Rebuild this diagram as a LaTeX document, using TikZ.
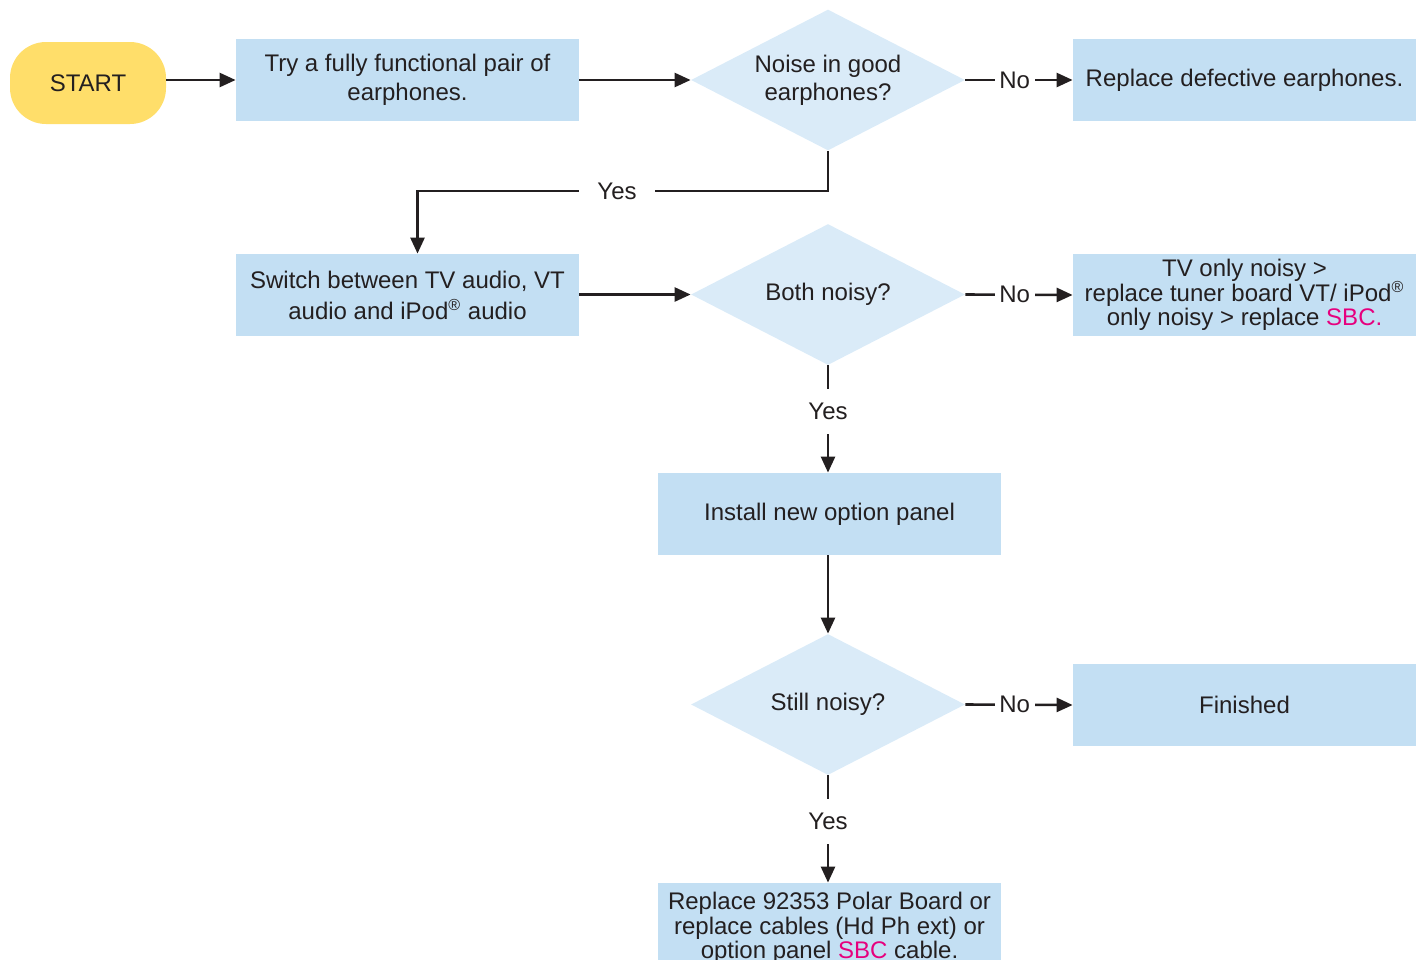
\documentclass[tikz,border=0pt]{standalone}
\usepackage{fontspec}
\setmainfont{Liberation Sans}
\usetikzlibrary{shapes.geometric,arrows.meta}
\definecolor{txt}{RGB}{35,31,32}
\definecolor{boxc}{RGB}{195,223,243}
\definecolor{diac}{RGB}{218,235,248}
\definecolor{startc}{RGB}{255,222,106}
\definecolor{mag}{RGB}{230,0,126}
\begin{document}
\begin{tikzpicture}[x=0.5pt,y=-0.5pt,
  font=\fontsize{12}{14.5}\selectfont, text=txt,
  startbox/.style={rectangle, fill=startc, rounded corners=18pt, minimum width=78pt, minimum height=41pt, inner sep=0pt},
  box/.style={rectangle, fill=boxc, minimum width=171.5pt, minimum height=41pt, inner sep=0pt, align=center},
  dia/.style={diamond, fill=diac, minimum width=137pt, minimum height=70.5pt, inner sep=0pt, aspect=1.94, align=center},
  arr/.style={draw=txt, line width=1.3pt, -{Triangle[length=8pt,width=7pt]}},
  nolbl/.style={fill=white, inner xsep=2.3pt, inner ysep=1pt, pos=0.46},
  ylbl/.style={fill=white, inner xsep=9pt, inner ysep=7pt}]
\useasboundingbox (0,0) rectangle (1423,959);

\node[startbox] (st) at (88,83) {START};
\node[box] (b1) at (407.5,80) {Try a fully functional pair of\\earphones.};
\node[dia, font=\fontsize{12}{14}\selectfont] (d1) at (828,80) {Noise in good\\earphones?};
\node[box] (b2) at (1244.5,80) {Replace defective earphones.};

\node[box, font=\fontsize{12}{15.5}\selectfont] (b3) at (407.5,295) {Switch between TV audio, VT\\audio and iPod\textsuperscript{®} audio};
\node[dia] (d2) at (828,294.5) {Both noisy?};
\node[box, font=\fontsize{12}{12.3}\selectfont] (b4) at (1244.5,295) {TV only noisy >\\replace tuner board VT/ iPod\smash{\textsuperscript{®}}\\only noisy > replace \textcolor{mag}{SBC.}};

\node[box] (b5) at (829.5,514) {Install new option panel};
\node[dia] (d3) at (828,704.5) {Still noisy?};
\node[box] (b6) at (1244.5,705) {Finished};
\node[box, minimum height=45pt, font=\fontsize{12}{12.2}\selectfont] (b7) at (829.5,928) {Replace 92353 Polar Board or\\replace cables (Hd Ph ext) or\\option panel \textcolor{mag}{SBC} cable.};

\draw[arr] (st.east |- b1.west) -- (b1.west);
\draw[arr] (b1.east) -- (d1.west);
\draw[arr] (d1.east) -- node[nolbl]{No} (b2.west);
\draw[arr] (d1.south) -- ++(0,40) -| node[pos=0.257, ylbl]{Yes} ([xshift=5pt]b3.north);

\draw[arr] (b3.east |- d2.west) -- (d2.west);
\draw[arr] (d2.east) -- node[nolbl]{No} (b4.west);
\draw[arr] (d2.south) -- node[ylbl, pos=0.43]{Yes} (d2.south |- b5.north);

\draw[arr] (b5.south -| d3.north) -- (d3.north);
\draw[arr] (d3.east) -- node[nolbl]{No} (b6.west);
\draw[arr] (d3.south) -- node[ylbl, pos=0.43]{Yes} (d3.south |- b7.north);
\end{tikzpicture}
\end{document}
